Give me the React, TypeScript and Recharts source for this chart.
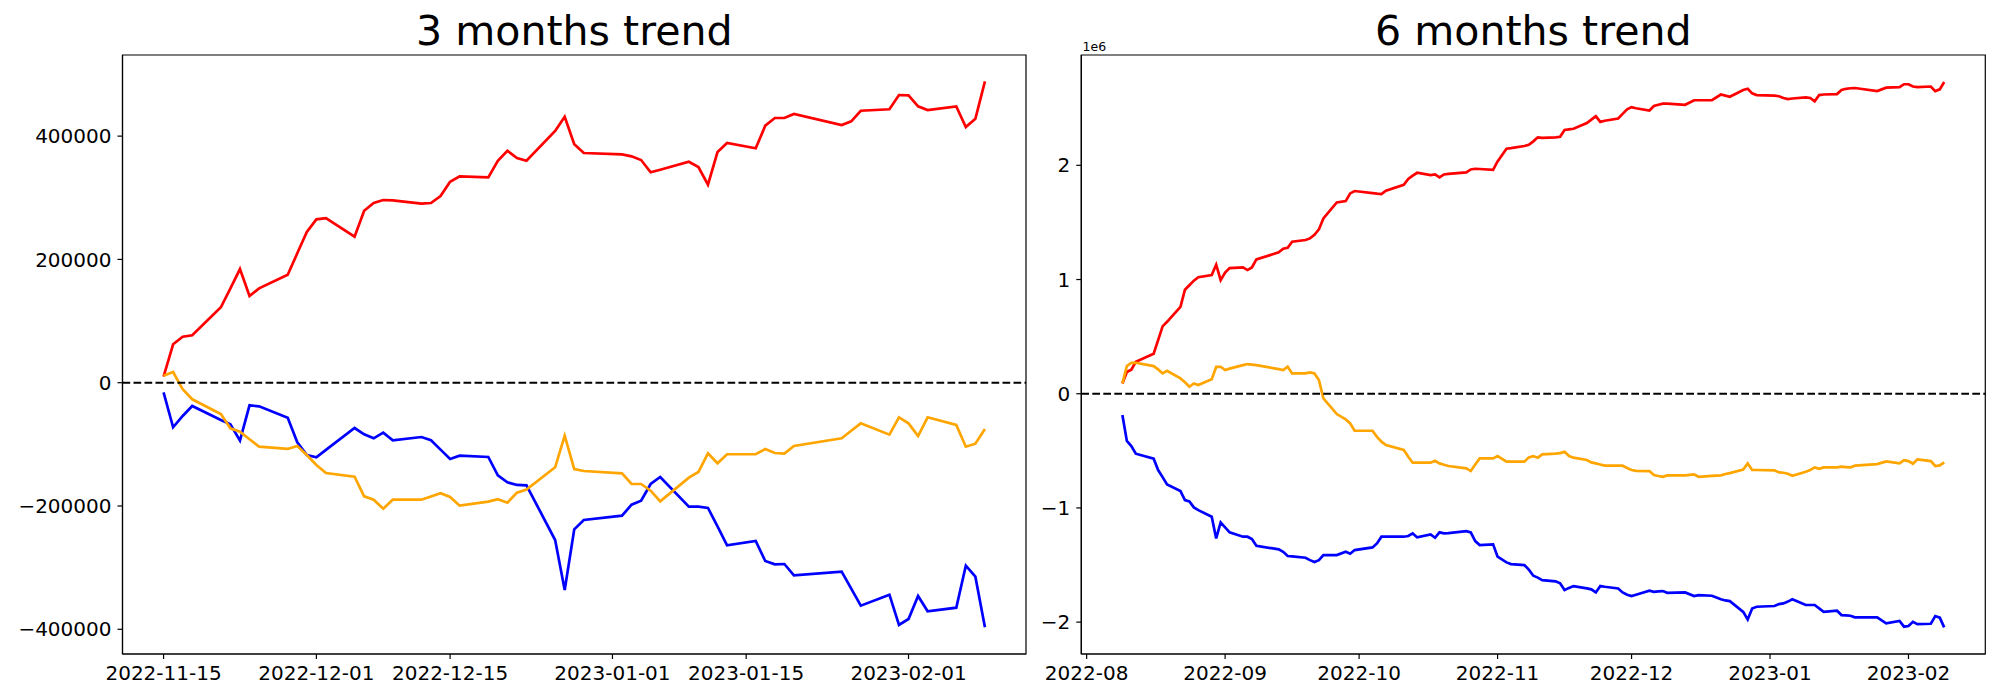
import { LineChart, Line, XAxis, YAxis, ReferenceLine, ReferenceArea } from 'recharts'

const FONT = '"DejaVu Sans", "Liberation Sans", sans-serif'

// 3 months trend
const shortDates = [
  '2022-11-15', '2022-11-16', '2022-11-17', '2022-11-18', '2022-11-21', '2022-11-22', '2022-11-23', '2022-11-24', '2022-11-25',
  '2022-11-28', '2022-11-29', '2022-11-30', '2022-12-01', '2022-12-02', '2022-12-05', '2022-12-06', '2022-12-07', '2022-12-08',
  '2022-12-09', '2022-12-12', '2022-12-13', '2022-12-14', '2022-12-15', '2022-12-16', '2022-12-19', '2022-12-20', '2022-12-21',
  '2022-12-22', '2022-12-23', '2022-12-26', '2022-12-27', '2022-12-28', '2022-12-29', '2023-01-02', '2023-01-03', '2023-01-04',
  '2023-01-05', '2023-01-06', '2023-01-09', '2023-01-10', '2023-01-11', '2023-01-12', '2023-01-13', '2023-01-16', '2023-01-17',
  '2023-01-18', '2023-01-19', '2023-01-20', '2023-01-25', '2023-01-26', '2023-01-27', '2023-01-30', '2023-01-31', '2023-02-01',
  '2023-02-02', '2023-02-03', '2023-02-06', '2023-02-07', '2023-02-08', '2023-02-09',
]
const shortRed = [
  10000, 62300, 74600, 76900, 122300, 153000, 184400, 140600, 153100,
  175200, 209900, 244400, 265000, 267100, 236800, 279000, 291500, 296400,
  295800, 290400, 291500, 302800, 326000, 334800, 333200, 360100, 376300,
  364500, 360100, 408300, 431500, 387000, 372600, 370500, 367200, 361200,
  341300, 345500, 358500, 349900, 321200, 374200, 388800, 380200, 416900,
  429400, 429400, 435900, 418000, 424000, 441200, 443500, 466700, 466200,
  448300, 442300, 448300, 414700, 428200, 488900,
]
const shortBlue = [
  -15600, -72300, -54000, -37800, -60500, -67500, -94000, -36700, -38300,
  -56800, -96700, -117300, -121000, -109000, -73500, -83700, -90200, -81100,
  -93400, -88100, -93400, -108600, -123800, -118400, -120500, -150200, -161600,
  -165900, -166400, -255200, -336300, -237800, -222700, -215700, -197900, -191400,
  -164300, -153000, -201100, -201100, -203200, -233000, -263700, -256800, -289200,
  -294600, -294100, -312400, -306600, -334000, -361700, -343900, -393000, -383300,
  -346000, -370800, -365000, -296800, -314700, -396800,
]
const shortOrange = [
  11400, 17400, -10700, -26900, -50800, -74000, -79500, -91800, -103800,
  -107500, -102700, -117300, -133500, -146500, -152500, -184300, -189800, -204400,
  -189800, -189800, -184600, -179400, -185400, -199500, -193000, -189100, -194600,
  -178400, -173500, -137200, -86000, -140000, -143200, -147000, -164300, -164300,
  -175200, -192400, -154100, -144900, -114500, -130700, -116100, -116100, -107500,
  -114000, -115100, -102700, -90200, -78000, -65900, -84300, -56100, -65900,
  -86500, -56100, -68600, -103800, -98900, -75100,
]
const shortTicks = ['2022-11-15', '2022-12-01', '2022-12-15', '2023-01-01', '2023-01-15', '2023-02-01']
const shortYTicks = [-400000, -200000, 0, 200000, 400000]

// 6 months trend (values in 1e6)
const longDates = [
  '2022-08-09', '2022-08-10', '2022-08-11', '2022-08-12', '2022-08-16', '2022-08-17', '2022-08-18', '2022-08-19',
  '2022-08-22', '2022-08-23', '2022-08-24', '2022-08-25', '2022-08-26', '2022-08-29', '2022-08-30', '2022-08-31',
  '2022-09-01', '2022-09-02', '2022-09-05', '2022-09-06', '2022-09-07', '2022-09-08', '2022-09-13', '2022-09-14',
  '2022-09-15', '2022-09-16', '2022-09-19', '2022-09-20', '2022-09-21', '2022-09-22', '2022-09-23', '2022-09-26',
  '2022-09-28', '2022-09-29', '2022-09-30',
  '2022-10-04', '2022-10-05', '2022-10-06', '2022-10-07', '2022-10-11', '2022-10-12', '2022-10-13', '2022-10-14',
  '2022-10-17', '2022-10-18', '2022-10-19', '2022-10-20', '2022-10-21', '2022-10-25', '2022-10-26', '2022-10-27',
  '2022-10-28', '2022-10-31',
  '2022-11-01', '2022-11-03', '2022-11-04', '2022-11-07', '2022-11-08', '2022-11-09', '2022-11-10', '2022-11-11',
  '2022-11-14', '2022-11-15', '2022-11-16', '2022-11-17', '2022-11-18', '2022-11-21', '2022-11-22', '2022-11-23',
  '2022-11-24', '2022-11-25', '2022-11-28', '2022-11-29', '2022-11-30',
  '2022-12-01', '2022-12-02', '2022-12-05', '2022-12-06', '2022-12-07', '2022-12-08', '2022-12-09', '2022-12-13',
  '2022-12-15', '2022-12-16', '2022-12-19', '2022-12-21', '2022-12-22', '2022-12-23', '2022-12-26', '2022-12-27',
  '2022-12-28', '2022-12-29',
  '2023-01-02', '2023-01-03', '2023-01-04', '2023-01-05', '2023-01-06', '2023-01-09', '2023-01-10', '2023-01-11',
  '2023-01-12', '2023-01-13', '2023-01-16', '2023-01-17', '2023-01-18', '2023-01-19', '2023-01-20', '2023-01-25',
  '2023-01-27', '2023-01-30', '2023-01-31',
  '2023-02-01', '2023-02-02', '2023-02-03', '2023-02-06', '2023-02-07', '2023-02-08', '2023-02-09',
]
const longRed = [
  0.09, 0.19, 0.21, 0.28, 0.35, 0.47, 0.59, 0.63, 0.76, 0.91, 0.95, 0.99, 1.02, 1.04, 1.13, 0.995,
  1.06, 1.1, 1.106, 1.083, 1.106, 1.176, 1.238, 1.27, 1.278, 1.331, 1.346, 1.36, 1.392, 1.439, 1.535, 1.675, 1.687, 1.754, 1.775,
  1.757, 1.752, 1.748, 1.778, 1.83, 1.88, 1.91, 1.935, 1.915, 1.92, 1.894, 1.92, 1.925, 1.938, 1.964, 1.97, 1.968, 1.96,
  2.034, 2.145, 2.15, 2.169, 2.18, 2.21, 2.245, 2.24, 2.245, 2.25, 2.31, 2.315, 2.32, 2.37, 2.4, 2.43, 2.38, 2.39, 2.41, 2.45, 2.49,
  2.51, 2.5, 2.48, 2.52, 2.53, 2.54, 2.54, 2.53, 2.57, 2.57, 2.57, 2.62, 2.61, 2.6, 2.66, 2.67, 2.63, 2.615,
  2.61, 2.605, 2.59, 2.58, 2.585, 2.595, 2.59, 2.56, 2.615, 2.62, 2.624, 2.66, 2.67, 2.675, 2.677, 2.65, 2.68, 2.685, 2.71,
  2.71, 2.69, 2.685, 2.69, 2.65, 2.665, 2.73,
]
const longBlue = [
  -0.187, -0.414, -0.458, -0.525, -0.569, -0.668, -0.73, -0.794, -0.852, -0.931, -0.943, -0.995, -1.019, -1.077, -1.267, -1.127,
  -1.17, -1.214, -1.252, -1.252, -1.273, -1.331, -1.363, -1.384, -1.421, -1.424, -1.436, -1.457, -1.474, -1.457, -1.413, -1.413, -1.384, -1.401, -1.369,
  -1.346, -1.311, -1.252, -1.252, -1.252, -1.246, -1.223, -1.258, -1.232, -1.261, -1.214, -1.223, -1.22, -1.203, -1.214, -1.29, -1.325, -1.319,
  -1.427, -1.477, -1.492, -1.5, -1.54, -1.594, -1.61, -1.632, -1.643, -1.66, -1.719, -1.7, -1.684, -1.705, -1.713, -1.74, -1.684, -1.69, -1.705, -1.74, -1.76,
  -1.772, -1.76, -1.725, -1.735, -1.73, -1.728, -1.743, -1.74, -1.772, -1.763, -1.769, -1.8, -1.81, -1.816, -1.91, -1.976, -1.88, -1.865,
  -1.859, -1.842, -1.836, -1.82, -1.8, -1.85, -1.85, -1.85, -1.88, -1.909, -1.9, -1.938, -1.94, -1.944, -1.958, -1.958, -2.011, -1.99, -2.04,
  -2.034, -1.997, -2.017, -2.014, -1.947, -1.961, -2.046,
]
const longOrange = [
  0.09, 0.242, 0.271, 0.271, 0.242, 0.213, 0.178, 0.2, 0.134, 0.1, 0.061, 0.09, 0.076, 0.126, 0.236, 0.236,
  0.207, 0.22, 0.25, 0.26, 0.255, 0.25, 0.215, 0.207, 0.236, 0.178, 0.178, 0.187, 0.178, 0.12, -0.041, -0.178, -0.225, -0.26, -0.324,
  -0.324, -0.377, -0.42, -0.45, -0.493, -0.552, -0.604, -0.604, -0.604, -0.587, -0.61, -0.622, -0.633, -0.654, -0.677, -0.62, -0.566, -0.566,
  -0.546, -0.595, -0.595, -0.595, -0.557, -0.546, -0.56, -0.531, -0.525, -0.52, -0.508, -0.546, -0.56, -0.58, -0.601, -0.61, -0.62, -0.63, -0.63, -0.63, -0.65,
  -0.668, -0.675, -0.677, -0.712, -0.72, -0.727, -0.715, -0.715, -0.706, -0.727, -0.72, -0.715, -0.703, -0.695, -0.663, -0.61, -0.668, -0.668,
  -0.671, -0.689, -0.692, -0.7, -0.718, -0.683, -0.668, -0.645, -0.657, -0.645, -0.645, -0.639, -0.642, -0.645, -0.63, -0.616, -0.593, -0.61, -0.581,
  -0.59, -0.613, -0.575, -0.59, -0.633, -0.628, -0.601,
]
const longTicks = ['2022-08-01', '2022-09-01', '2022-10-01', '2022-11-01', '2022-12-01', '2023-01-01', '2023-02-01']
const longYTicks = [-2, -1, 0, 1, 2]

const toTime = (d: string) => Date.parse(d + 'T00:00:00Z')

function buildRows(dates: string[], red: number[], blue: number[], orange: number[]) {
  return dates.map((d, i) => ({ t: toTime(d), red: red[i], blue: blue[i], orange: orange[i] }))
}

// matplotlib-style 5% padding on the date axis
function padDomain(dates: string[]): [number, number] {
  const a = toTime(dates[0])
  const b = toTime(dates[dates.length - 1])
  const pad = (b - a) * 0.05
  return [a - pad, b + pad]
}

const fmtNum = (v: number) => (v < 0 ? '\u2212' + Math.abs(v) : String(v))

interface TrendProps {
  rows: ReturnType<typeof buildRows>
  xDomain: [number, number]
  yDomain: [number, number]
  xTicks: number[]
  yTicks: number[]
  xFormat: (v: number) => string
  width: number
  left: number
  yWidth: number
  right: number
}

function TrendChart({ rows, xDomain, yDomain, xTicks, yTicks, xFormat, width, left, yWidth, right }: TrendProps) {
  const tick = { fill: '#000', fontSize: 20, fontFamily: FONT }
  const axisLine = { stroke: '#000', strokeWidth: 1.2 }
  return (
    <LineChart width={width} height={700} data={rows} margin={{ top: 55, right, bottom: 6, left }}>
      <XAxis
        dataKey="t"
        type="number"
        domain={xDomain}
        ticks={xTicks}
        interval={0}
        allowDataOverflow
        tickFormatter={xFormat}
        tick={tick}
        tickSize={5}
        tickMargin={7}
        height={40}
        axisLine={axisLine}
        tickLine={{ stroke: '#000', strokeWidth: 1.2 }}
      />
      <YAxis
        type="number"
        domain={yDomain}
        ticks={yTicks}
        interval={0}
        allowDataOverflow
        tickFormatter={fmtNum}
        tick={tick}
        tickSize={5}
        tickMargin={6}
        width={yWidth}
        axisLine={axisLine}
        tickLine={{ stroke: '#000', strokeWidth: 1.2 }}
      />
      <Line type="linear" dataKey="red" stroke="#ff0000" strokeWidth={2.7} dot={false} isAnimationActive={false} />
      <Line type="linear" dataKey="blue" stroke="#0000ff" strokeWidth={2.7} dot={false} isAnimationActive={false} />
      <Line type="linear" dataKey="orange" stroke="#ffa500" strokeWidth={2.7} dot={false} isAnimationActive={false} />
      <ReferenceLine y={0} stroke="#000" strokeWidth={2.1} strokeDasharray="7.7 3.3" />
      <ReferenceArea
        x1={xDomain[0]}
        x2={xDomain[1]}
        y1={yDomain[0]}
        y2={yDomain[1]}
        fill="none"
        fillOpacity={0}
        stroke="#000"
        strokeWidth={1.2}
        ifOverflow="visible"
      />
    </LineChart>
  )
}

export default function App() {
  const shortRows = buildRows(shortDates, shortRed, shortBlue, shortOrange)
  const longRows = buildRows(longDates, longRed, longBlue, longOrange)

  return (
    <div style={{ position: 'absolute', left: 0, top: 0, width: 2000, height: 700, background: '#fff', fontFamily: FONT }}>
      <div style={{ position: 'absolute', left: 0, top: 0 }}>
        <TrendChart
          rows={shortRows}
          xDomain={padDomain(shortDates)}
          yDomain={[-440100, 531600]}
          xTicks={shortTicks.map(toTime)}
          yTicks={shortYTicks}
          xFormat={(v) => new Date(v).toISOString().slice(0, 10)}
          width={1040}
          left={22.5}
          yWidth={100}
          right={14}
        />
      </div>
      <div style={{ position: 'absolute', left: 1030, top: 0 }}>
        <TrendChart
          rows={longRows}
          xDomain={padDomain(longDates)}
          yDomain={[-2.279, 2.966]}
          xTicks={longTicks.map(toTime)}
          yTicks={longYTicks}
          xFormat={(v) => new Date(v).toISOString().slice(0, 7)}
          width={970}
          left={1.3}
          yWidth={50}
          right={14.7}
        />
      </div>
      <svg width={2000} height={700} style={{ position: 'absolute', left: 0, top: 0, pointerEvents: 'none' }}>
        <text x={574.3} y={45} textAnchor="middle" fontSize={41.1} fontFamily={FONT} fill="#000">
          3 months trend
        </text>
        <text x={1533.3} y={45} textAnchor="middle" fontSize={41.1} fontFamily={FONT} fill="#000">
          6 months trend
        </text>
        <text x={1082.5} y={50.7} fontSize={12.5} fontFamily={FONT} fill="#000">
          1e6
        </text>
      </svg>
    </div>
  )
}
